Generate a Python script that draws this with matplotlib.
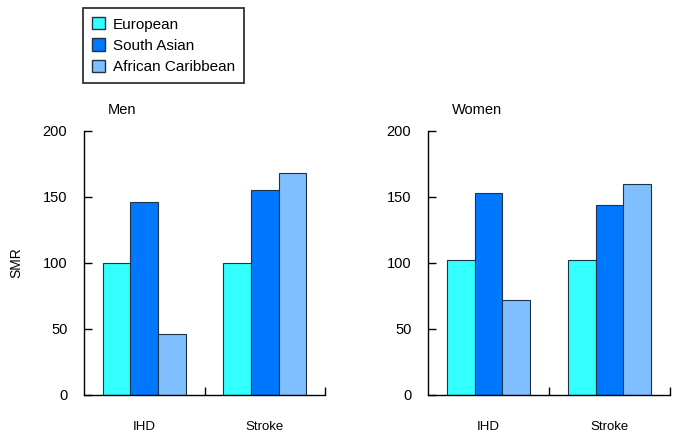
import matplotlib
matplotlib.use('Agg')
import matplotlib.pyplot as plt
import numpy as np
from matplotlib.patches import Patch

plt.rcParams['font.family'] = ['Liberation Sans', 'DejaVu Sans']
plt.rcParams['font.size'] = 10

# ── data ─────────────────────────────────────────────
causes = ['IHD', 'Stroke']
groups = ['European', 'South Asian', 'African Caribbean']
men_smr = {
    'European': [100, 100],
    'South Asian': [146, 155],
    'African Caribbean': [46, 168],
}
women_smr = {
    'European': [102, 102],
    'South Asian': [153, 144],
    'African Caribbean': [72, 160],
}
yticks = [0, 50, 100, 150, 200]

COLORS = ['#33FFFF', '#0077FF', '#80BFFF']
EDGE = '#1f3347'

fig = plt.figure(figsize=(6.75, 4.33), dpi=100)
ax_m = fig.add_axes([84 / 675, 38 / 433, 241 / 675, 264 / 433])
ax_w = fig.add_axes([428 / 675, 38 / 433, 242 / 675, 264 / 433])

width = 0.23
centers = np.array([0.5, 1.5])

for ax, data, title in [(ax_m, men_smr, 'Men'), (ax_w, women_smr, 'Women')]:
    for i, (g, c) in enumerate(zip(groups, COLORS)):
        ax.bar(centers + (i - 1) * width, data[g], width=width, color=c,
               edgecolor=EDGE, linewidth=0.8)
    ax.set_xlim(0, 2)
    ax.set_ylim(0, 200)
    ax.set_yticks(yticks)
    ax.set_xticks([1, 2])
    ax.set_xticklabels([])
    ax.set_xticks(centers, minor=True)
    ax.set_xticklabels(causes, minor=True)
    ax.tick_params(axis='x', which='minor', length=0, pad=19, labelsize=9.5)
    ax.tick_params(axis='x', which='major', direction='in', length=6, width=1)
    ax.tick_params(axis='y', direction='in', length=6, width=1, pad=12,
                   labelsize=10.5)
    for s in ['top', 'right']:
        ax.spines[s].set_visible(False)
    for s in ['left', 'bottom']:
        ax.spines[s].set_linewidth(1)
    ax.text(0.1, 1.08, title, transform=ax.transAxes, fontsize=10.5,
            ha='left', va='center')

ax_m.set_ylabel('SMR', fontsize=10, labelpad=14)

handles = [Patch(facecolor=c, edgecolor=EDGE, label=g)
           for g, c in zip(groups, COLORS)]
leg = fig.legend(handles=handles, loc='upper left',
                 bbox_to_anchor=(83 / 675, 1 - 8 / 433), frameon=True,
                 fancybox=False, fontsize=11, handlelength=0.85,
                 handleheight=0.85, handletextpad=0.5, labelspacing=0.45,
                 borderpad=0.6, borderaxespad=0)
leg.get_frame().set_edgecolor('black')
leg.get_frame().set_linewidth(1.3)

fig.savefig('out.png', dpi=100, facecolor='white')
